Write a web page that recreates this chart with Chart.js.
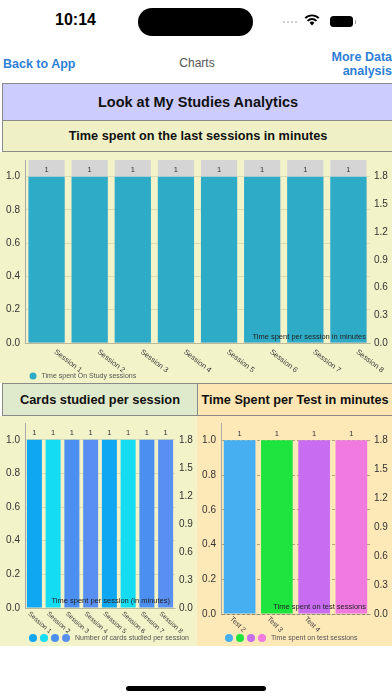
<!DOCTYPE html>
<html>
<head>
<meta charset="utf-8">
<script src="https://cdn.jsdelivr.net/npm/chart.js@4.4.1/dist/chart.umd.min.js"></script>
<style>
  body { margin: 0; width: 392px; height: 696px; background: #fff; position: relative; overflow: hidden;
         font-family: "Liberation Sans", Arial, sans-serif; }
  .abs { position: absolute; }
  .box { position: absolute; box-sizing: border-box; border: 1.5px solid #8a8a8a; display: flex;
         align-items: center; justify-content: center; font-weight: bold; color: #111; white-space: nowrap; }
  .panel { position: absolute; }
  .panel canvas { display: block; }
</style>
</head>
<body>
<!-- status bar -->
<div class="abs" style="left:55px;top:11px;font-size:16px;font-weight:bold;color:#000">10:14</div>
<div class="abs" style="left:138px;top:8px;width:115px;height:28px;border-radius:14px;background:#000"></div>
<div class="abs" style="left:283px;top:21px;width:2px;height:2px;border-radius:1px;background:#bbb;box-shadow:4px 0 #bbb,8px 0 #bbb,12px 0 #bbb"></div>
<svg class="abs" style="left:304px;top:14px" width="16" height="12" viewBox="0 0 16 12">
  <path d="M8 11.5 L5.6 8.8 A3.4 3.4 0 0 1 10.4 8.8 Z" fill="#000"/>
  <path d="M3.6 6.8 A6.2 6.2 0 0 1 12.4 6.8" stroke="#000" stroke-width="1.9" fill="none"/>
  <path d="M1.2 4.2 A9.6 9.6 0 0 1 14.8 4.2" stroke="#000" stroke-width="1.9" fill="none"/>
</svg>
<div class="abs" style="left:330px;top:16px;width:23px;height:11px;border-radius:3.5px;background:#000"></div>
<div class="abs" style="left:354.5px;top:19.5px;width:1.5px;height:4px;border-radius:1px;background:#999"></div>

<!-- nav -->
<div class="abs" style="left:3px;top:57px;font-size:12.5px;font-weight:bold;color:#2e80d6">Back to App</div>
<div class="abs" style="left:0;width:394px;top:56px;text-align:center;font-size:12px;color:#555">Charts</div>
<div class="abs" style="right:0;top:51px;text-align:right;font-size:12.5px;font-weight:bold;color:#2e80d6;line-height:13.5px">More Data<br>analysis</div>

<!-- headers -->
<div class="box" style="left:2px;top:83px;width:392px;height:38px;background:#ccccff;font-size:14.5px">Look at My Studies Analytics</div>
<div class="box" style="left:2px;top:119.5px;width:392px;height:32.5px;background:#f0f0c7;font-size:12.7px">Time spent on the last sessions in minutes</div>

<div class="panel" style="left:0;top:152px;width:392px;height:231px;background:#f3f3c9">
  <canvas id="studyChart" width="392" height="231"></canvas>
</div>

<div class="box" style="left:2px;top:383px;width:196px;height:33px;background:#dfe9cb;font-size:12.8px">Cards studied per session</div>
<div class="box" style="left:196.5px;top:383px;width:197px;height:33px;background:#fde6b4;font-size:12.7px">Time Spent per Test in minutes</div>

<div class="panel" style="left:0;top:416px;width:197px;height:230px;background:#f3f3c9">
  <canvas id="cardsChart" width="197" height="230"></canvas>
</div>
<div class="panel" style="left:197px;top:416px;width:195px;height:230px;background:#fde8b8">
  <canvas id="testChart" width="195" height="230"></canvas>
</div>

<div class="abs" style="left:126px;top:686px;width:140px;height:5px;border-radius:3px;background:#000"></div>

<script>
// ---- data ----
const sessionLabels = ["Session 1", "Session 2", "Session 3", "Session 4",
                       "Session 5", "Session 6", "Session 7", "Session 8"];
const studyMinutes = [1, 1, 1, 1, 1, 1, 1, 1];
const cardsPerSession = [1, 1, 1, 1, 1, 1, 1, 1];
const testLabels = ["Test 2", "Test 3", "Test 4", ""];
const testMinutes = [1, 1, 1, 1];

const LEFT_MAX = 1.1;
const RIGHT_MAX = 1.98;

const STUDY_COLORS = ["#2eabc6"];
const CARD_COLORS = ["#0fa6f2", "#14dcf2", "#4b8ff0", "#5a8ff2"];
const TEST_COLORS = ["#45aff2", "#1ee43e", "#c86cf2", "#f07ae0"];

const FONT = '"Liberation Sans", Arial, sans-serif';
Chart.defaults.font.family = FONT;
Chart.defaults.animation = false;

// gray "shadow" column behind each bar, full plot height
const barShadow = {
  id: "barShadow",
  beforeDatasetsDraw(chart, args, opts) {
    if (!opts.color) return;
    const { ctx, chartArea } = chart;
    ctx.save();
    ctx.fillStyle = opts.color;
    chart.getDatasetMeta(0).data.forEach((bar) => {
      ctx.fillRect(bar.x - bar.width / 2, chartArea.top, bar.width, chartArea.bottom - chartArea.top);
    });
    ctx.restore();
  },
};

// value above each bar
const valueLabels = {
  id: "valueLabels",
  afterDatasetsDraw(chart) {
    const { ctx } = chart;
    const values = chart.data.datasets[0].data;
    ctx.save();
    ctx.fillStyle = "#333";
    ctx.font = "7.5px " + FONT;
    ctx.textAlign = "center";
    ctx.textBaseline = "bottom";
    chart.getDatasetMeta(0).data.forEach((bar, i) => {
      ctx.fillText(String(values[i]), bar.x, bar.y - 3);
    });
    ctx.restore();
  },
};

// x labels slanted downwards to the right, like the iOS chart
const slantTicks = {
  id: "slantTicks",
  afterDraw(chart, args, opts) {
    if (opts.angle == null) return;
    const { ctx } = chart;
    const xs = chart.scales.x;
    ctx.save();
    ctx.fillStyle = "#3a3a3a";
    ctx.font = (opts.size || 7.5) + "px " + FONT;
    ctx.textAlign = "left";
    ctx.textBaseline = "middle";
    chart.data.labels.forEach((label, i) => {
      ctx.save();
      ctx.translate(xs.getPixelForTick(i) + opts.dx, xs.top + opts.dy);
      ctx.rotate((opts.angle * Math.PI) / 180);
      ctx.fillText(label, 0, 0);
      ctx.restore();
    });
    ctx.restore();
  },
};

// description text at bottom right of the plot
const description = {
  id: "description",
  afterDraw(chart, args, opts) {
    if (!opts.text) return;
    const { ctx, chartArea } = chart;
    ctx.save();
    ctx.fillStyle = "#222";
    ctx.font = "7.5px " + FONT;
    ctx.textAlign = "right";
    ctx.textBaseline = "middle";
    ctx.fillText(opts.text, chartArea.right - opts.dx, chartArea.bottom - opts.dy);
    ctx.restore();
  },
};

// dots + one caption legend
const dotLegend = {
  id: "dotLegend",
  afterDraw(chart, args, opts) {
    if (!opts.colors) return;
    const { ctx } = chart;
    ctx.save();
    opts.colors.forEach((c, i) => {
      ctx.fillStyle = c;
      ctx.beginPath();
      ctx.arc(opts.x + i * opts.gap, opts.y, opts.r, 0, Math.PI * 2);
      ctx.fill();
    });
    ctx.fillStyle = "#555";
    ctx.font = "7px " + FONT;
    ctx.textAlign = "left";
    ctx.textBaseline = "middle";
    ctx.fillText(opts.text, opts.x + (opts.colors.length - 1) * opts.gap + opts.r + 5, opts.y);
    ctx.restore();
  },
};

Chart.register(barShadow, valueLabels, slantTicks, description, dotLegend);

function buildScales(leftW, rightW, xH, dash) {
  return {
    x: {
      grid: { display: false },
      border: { color: "rgba(0,0,0,0.15)" },
      ticks: { display: false },
      afterFit(s) { s.height = xH; },
    },
    y: {
      position: "left",
      min: 0,
      max: LEFT_MAX,
      ticks: {
        stepSize: 0.2, includeBounds: false, padding: 5, color: "#333",
        font: { size: 10 }, callback: (v) => v.toFixed(1),
      },
      grid: { color: dash ? "rgba(0,0,0,0.3)" : "rgba(0,0,0,0.1)", drawTicks: false },
      border: { color: "#aaa", dash: dash || [] },
      afterFit(s) { s.width = leftW; s.paddingTop = 0; s.paddingBottom = 0; },
    },
    y2: {
      position: "right",
      min: 0,
      max: RIGHT_MAX,
      ticks: {
        stepSize: 0.3, includeBounds: false, padding: 4, color: "#333",
        font: { size: 10 }, callback: (v) => v.toFixed(1),
      },
      grid: { display: false, drawTicks: false },
      border: { display: false },
      afterFit(s) { s.width = rightW; s.paddingTop = 0; s.paddingBottom = 0; },
    },
  };
}

new Chart(document.getElementById("studyChart"), {
  type: "bar",
  data: {
    labels: sessionLabels,
    datasets: [{
      label: "Time spent On Study sessions",
      data: studyMinutes,
      backgroundColor: STUDY_COLORS,
      barPercentage: 0.84,
      categoryPercentage: 1,
    }],
  },
  options: {
    responsive: false,
    layout: { padding: { top: 8, bottom: 0, left: 0, right: 0 } },
    scales: buildScales(25, 22, 40),
    plugins: {
      legend: { display: false },
      tooltip: { enabled: false },
      barShadow: { color: "#d5d5d5" },
      slantTicks: { angle: 38, dx: 8.5, dy: 8, size: 7.5 },
      description: { text: "Time spent per session in minutes", dx: 4, dy: 6 },
      dotLegend: { colors: STUDY_COLORS, x: 33, y: 224, r: 3.5, gap: 11, text: "Time spent On Study sessions" },
    },
  },
});

new Chart(document.getElementById("cardsChart"), {
  type: "bar",
  data: {
    labels: sessionLabels,
    datasets: [{
      label: "Number of cards studied per session",
      data: cardsPerSession,
      backgroundColor: CARD_COLORS,
      barPercentage: 0.8,
      categoryPercentage: 1,
    }],
  },
  options: {
    responsive: false,
    layout: { padding: { top: 7, bottom: 0, left: 0, right: 0 } },
    scales: buildScales(25, 22, 38),
    plugins: {
      legend: { display: false },
      tooltip: { enabled: false },
      slantTicks: { angle: 42, dx: -5.5, dy: 5, size: 6.6 },
      description: { text: "Time spent per session (in minutes)", dx: 5, dy: 7 },
      dotLegend: { colors: CARD_COLORS, x: 33, y: 222, r: 4, gap: 11, text: "Number of cards studied per session" },
    },
  },
});

new Chart(document.getElementById("testChart"), {
  type: "bar",
  data: {
    labels: testLabels,
    datasets: [{
      label: "Time spent on test sessions",
      data: testMinutes,
      backgroundColor: TEST_COLORS,
      barPercentage: 0.85,
      categoryPercentage: 1,
    }],
  },
  options: {
    responsive: false,
    layout: { padding: { top: 7, bottom: 0, left: 0, right: 0 } },
    scales: buildScales(24, 22, 32, [3, 2]),
    plugins: {
      legend: { display: false },
      tooltip: { enabled: false },
      slantTicks: { angle: 45, dx: -8.5, dy: 4, size: 7 },
      description: { text: "Time spent on test sessions", dx: 4, dy: 7 },
      dotLegend: { colors: TEST_COLORS, x: 32, y: 222, r: 4, gap: 11, text: "Time spent on test sessions" },
    },
  },
});
</script>
</body>
</html>
